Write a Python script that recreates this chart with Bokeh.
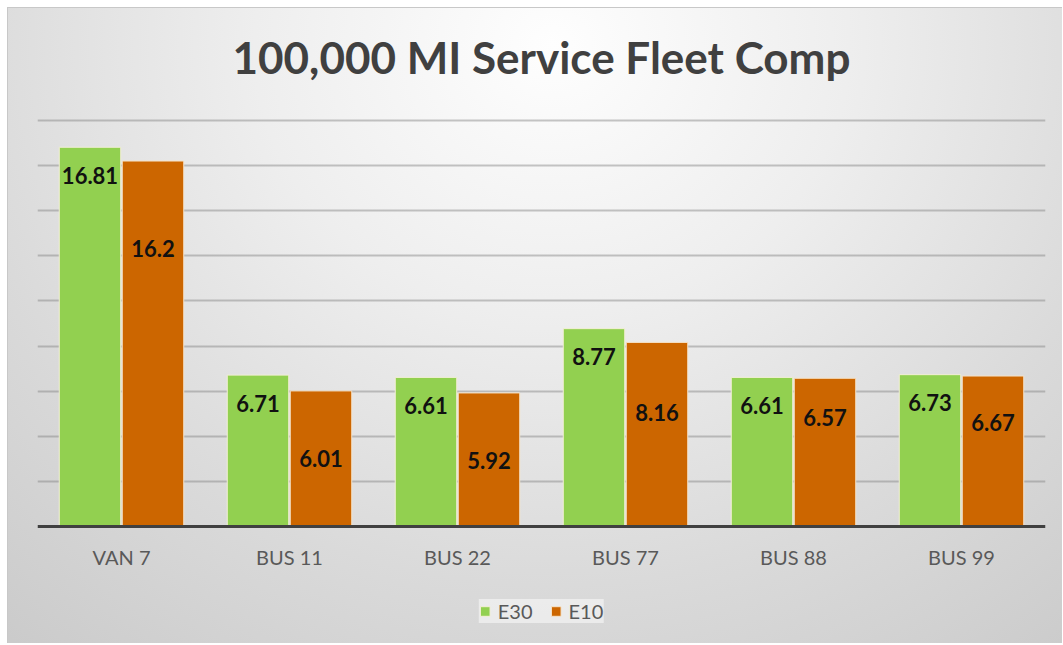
from bokeh.plotting import figure
from bokeh.models import FactorRange, Range1d, FixedTicker, Label, Legend, LegendItem, ColumnDataSource, Grid
from bokeh.transform import dodge
from bokeh.core.properties import value
from bokeh.embed import file_html
from bokeh.resources import INLINE

# ---------------- data ----------------
categories = ["VAN 7", "BUS 11", "BUS 22", "BUS 77", "BUS 88", "BUS 99"]
e30 = [16.81, 6.71, 6.61, 8.77, 6.61, 6.73]
e10 = [16.2, 6.01, 5.92, 8.16, 6.57, 6.67]
e30_labels = ["16.81", "6.71", "6.61", "8.77", "6.61", "6.73"]
e10_labels = ["16.2", "6.01", "5.92", "8.16", "6.57", "6.67"]
# where the E10 data labels sit (value units), as placed in the original
e10_label_anchor = [12.33, 3.02, 2.93, 5.06, 4.83, 4.61]
grid_values = [2, 4, 6, 8, 10, 12, 14, 16, 18]
series_names = ["E30", "E10"]
title_text = "100,000 MI Service Fleet Comp"

# ---------------- layout ----------------
W, H = 1062, 643
PX_PER_UNIT = 22.56
BASE_FROM_TOP = 526          # baseline distance from figure top (px)
y_end = BASE_FROM_TOP / PX_PER_UNIT
y_start = -(H - BASE_FROM_TOP) / PX_PER_UNIT
GREEN_DROP = 28 / PX_PER_UNIT
TITLE_MID = (BASE_FROM_TOP - 56) / PX_PER_UNIT

GREEN = "#92D050"
ORANGE = "#CC6600"
OFF = 0.1875
BW = 0.366

src = ColumnDataSource(dict(
    cat=categories,
    e30=e30,
    e10=e10,
    e30_lab=e30_labels,
    e10_lab=e10_labels,
    e30_y=[v - GREEN_DROP for v in e30],
    e10_y=e10_label_anchor,
))

p = figure(
    x_range=FactorRange(*categories),
    y_range=Range1d(y_start, y_end),
    width=W, height=H,
    output_backend="svg",
    toolbar_location=None,
    title=None,
    y_axis_location=None,
    min_border_left=37, min_border_right=17,
    min_border_top=0, min_border_bottom=0,
)
p.styles = {
    "background": "radial-gradient(ellipse 80% 120% at 52% 7%, #FEFEFE 0%, #EEEEEE 35%, #DADADA 70%, #CBCBCB 100%)",
    "box-shadow": "inset 7px 7px 0 0 #FFFFFF, inset 8px 8px 0 0 #C8C8C8",
}
p.background_fill_color = None
p.border_fill_color = None
p.outline_line_color = None

for g in p.grid:
    g.visible = False
p.add_layout(Grid(dimension=1, ticker=FixedTicker(ticks=grid_values),
                  grid_line_color="#808080", grid_line_alpha=0.45, grid_line_width=2))

# x axis pinned at value 0
p.xaxis.fixed_location = 0
p.xaxis.axis_line_color = "#404040"
p.xaxis.axis_line_width = 3
p.xaxis.major_tick_out = 0
p.xaxis.major_tick_in = 0
p.xaxis.minor_tick_out = 0
p.xaxis.major_label_standoff = 18
p.xaxis.major_label_text_font = "Lato"
p.xaxis.major_label_text_font_size = "20px"
p.xaxis.major_label_text_color = "#595959"

r1 = p.vbar(x=dodge("cat", -OFF, range=p.x_range), top="e30", width=BW, source=src,
            fill_color=GREEN, line_color="#F3EFD6", line_width=1)
r2 = p.vbar(x=dodge("cat", OFF, range=p.x_range), top="e10", width=BW, source=src,
            fill_color=ORANGE, line_color="#F6E3C8", line_width=1)

p.text(x=dodge("cat", -OFF, range=p.x_range), y="e30_y", text="e30_lab", source=src,
       text_align="center", text_baseline="middle", text_font=value("Lato"),
       text_font_style="bold", text_font_size="22px", text_color="#111111")
p.text(x=dodge("cat", OFF, range=p.x_range), y="e10_y", text="e10_lab", source=src,
       text_align="center", text_baseline="middle", text_font=value("Lato"),
       text_font_style="bold", text_font_size="22px", text_color="#111111")

p.add_layout(Label(x=3, y=TITLE_MID, text=title_text, text_align="center",
                   text_baseline="middle", text_font="Lato", text_font_style="bold",
                   text_font_size="44px", text_color="#404040"))

legend = Legend(items=[LegendItem(label=series_names[0], renderers=[r1]),
                       LegendItem(label=series_names[1], renderers=[r2])],
                orientation="horizontal", location="bottom_center", margin=20,
                padding=10, spacing=17, label_standoff=7,
                glyph_width=12, glyph_height=12,
                label_text_font="Lato", label_text_font_size="20px",
                label_text_color="#595959",
                background_fill_color="#F0F0F0", background_fill_alpha=0.8,
                border_line_color=None)
p.add_layout(legend)

open("out.html", "w").write(file_html(p, INLINE))
